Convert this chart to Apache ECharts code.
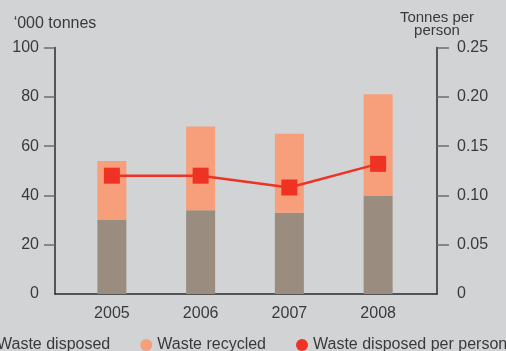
<!DOCTYPE html>
<html>
<head>
<meta charset="utf-8">
<script src="https://cdn.jsdelivr.net/npm/echarts@6/dist/echarts.min.js"></script>
<style>html,body{margin:0;padding:0;background:#d2d3d5;}#c{width:506px;height:351px;}</style>
</head>
<body>
<div id="c"></div>
<script>
const years = ['2005', '2006', '2007', '2008'];
const wasteDisposed = [30, 34, 33, 40];
const wasteRecycled = [24, 34, 32, 41];
const disposedPerPerson = [0.120, 0.120, 0.108, 0.132];
const leftTicks = [0, 20, 40, 60, 80, 100];
const rightTicks = [0, 0.05, 0.10, 0.15, 0.20, 0.25];

const FONT = 'Liberation Sans, Arial, sans-serif';
const TXT = '#3a3a3a';
const chart = echarts.init(document.getElementById('c'), null, {renderer: 'canvas'});
chart.setOption({
  backgroundColor: '#d2d3d5',
  animation: false,
  textStyle: {fontFamily: FONT, color: TXT},
  grid: [
    {left: 67.5, width: 355, top: 47.5, bottom: 57, containLabel: false},
    {left: 55, right: 69, top: 47.5, bottom: 57, containLabel: false}
  ],
  legend: {
    left: -20, top: 337, width: 700, padding: 0,
    itemGap: 30, itemWidth: 12, itemHeight: 12,
    textStyle: {fontSize: 16, color: TXT, fontFamily: FONT},
    data: [
      {name: 'Waste disposed', icon: 'circle'},
      {name: 'Waste recycled', icon: 'circle'},
      {name: 'Waste disposed per person', icon: 'circle'}
    ]
  },
  xAxis: [
    {
      type: 'category', gridIndex: 0, data: years,
      axisLine: {show: false}, axisTick: {show: false},
      axisLabel: {fontSize: 16, color: TXT, margin: 12, fontFamily: FONT}
    },
    {
      type: 'value', gridIndex: 1, min: 0, max: 1,
      axisLine: {show: true, onZero: false, lineStyle: {color: '#2b2b2b', width: 1.5}},
      axisTick: {show: false}, axisLabel: {show: false}, splitLine: {show: false}
    }
  ],
  yAxis: [
    {
      type: 'value', gridIndex: 0, min: 0, max: 100, interval: 20, offset: 12.5,
      name: "‘000 tonnes", nameLocation: 'end', nameGap: 16,
      nameTextStyle: {fontSize: 16, color: TXT, fontFamily: FONT},
      axisLine: {show: true, lineStyle: {color: '#2b2b2b', width: 1.5}},
      axisTick: {show: true, length: 11, customValues: leftTicks.slice(1), lineStyle: {color: '#6e6e6e', width: 1.5}},
      axisLabel: {fontSize: 16, color: TXT, margin: 16, fontFamily: FONT, customValues: leftTicks},
      splitLine: {show: false}
    },
    {
      type: 'value', gridIndex: 0, position: 'right', min: 0, max: 0.25, interval: 0.05, offset: 14.5,
      name: 'Tonnes per\nperson', nameLocation: 'end', nameGap: 10,
      nameTextStyle: {fontSize: 15, lineHeight: 13, color: TXT, fontFamily: FONT, align: 'center'},
      axisLine: {show: true, lineStyle: {color: '#2b2b2b', width: 1.5}},
      axisTick: {show: true, length: 12, customValues: rightTicks.slice(1), lineStyle: {color: '#6e6e6e', width: 1.5}},
      axisLabel: {fontSize: 16, color: TXT, margin: 20, fontFamily: FONT, customValues: rightTicks,
        formatter: v => v === 0 ? '0' : v.toFixed(2)},
      splitLine: {show: false}
    },
    {
      type: 'value', gridIndex: 1, show: false, min: 0, max: 1
    }
  ],
  series: [
    {
      name: 'Waste disposed', type: 'bar', stack: 'w', xAxisIndex: 0, yAxisIndex: 0,
      data: wasteDisposed, barWidth: 29, itemStyle: {color: '#9a8d80'}
    },
    {
      name: 'Waste recycled', type: 'bar', stack: 'w', xAxisIndex: 0, yAxisIndex: 0,
      data: wasteRecycled, barWidth: 29, itemStyle: {color: '#f79e7b'}
    },
    {
      name: 'Waste disposed per person', type: 'line', xAxisIndex: 0, yAxisIndex: 1,
      data: disposedPerPerson, symbol: 'rect', symbolSize: 16,
      itemStyle: {color: '#ee3224'}, lineStyle: {color: '#ee3224', width: 2.5}, z: 5
    }
  ]
});
</script>
</body>
</html>
